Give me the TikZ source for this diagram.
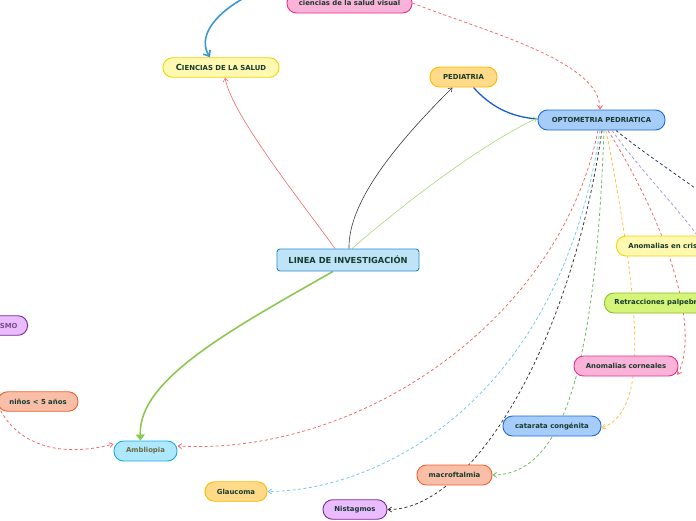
\documentclass[tikz,border=0pt]{standalone}
\usepackage{fontspec}
\setmainfont{DejaVu Sans}
\usetikzlibrary{arrows.meta,backgrounds}
\definecolor{txt}{HTML}{173A2C}
\definecolor{pinkF}{HTML}{FBB2D8}\definecolor{pinkD}{HTML}{E8308A}
\definecolor{yelF}{HTML}{FFF8B0}\definecolor{yelD}{HTML}{F2D400}
\definecolor{orF}{HTML}{FFDA88}\definecolor{orD}{HTML}{FFB700}
\definecolor{bluF}{HTML}{A6CCFA}\definecolor{bluD}{HTML}{1E6AD8}
\definecolor{cyF}{HTML}{BFE4F8}\definecolor{cyD}{HTML}{2A8AC8}
\definecolor{purF}{HTML}{EABCFF}\definecolor{purD}{HTML}{7A2A90}
\definecolor{salF}{HTML}{F9BEA8}\definecolor{salD}{HTML}{F0602A}
\definecolor{skyF}{HTML}{AEE8FC}\definecolor{skyD}{HTML}{1AA8E8}
\definecolor{grnF}{HTML}{D4F57A}\definecolor{grnD}{HTML}{8AC020}
\definecolor{cRed}{HTML}{F26B6B}
\definecolor{cBlk}{HTML}{3A3A3A}
\definecolor{cGrnT}{HTML}{A8D878}
\definecolor{cGrnK}{HTML}{8CC850}
\definecolor{cBluTop}{HTML}{3A98D0}
\definecolor{cBluPed}{HTML}{1A5FD0}
\definecolor{cSky}{HTML}{70C8F0}
\definecolor{cGrnD}{HTML}{70B860}
\definecolor{cYel}{HTML}{FFC040}
\definecolor{cPur}{HTML}{A898E0}
\definecolor{cNav}{HTML}{2A3A5A}
\tikzset{
  box/.style={draw, line width=0.9pt, rounded corners=9.5pt, minimum height=19.5pt,
    inner xsep=10pt, inner ysep=0pt, text=txt,
    font=\bfseries\fontsize{6.9}{8}\selectfont},
  lnk/.style={line width=0.8pt},
  dsh/.style={line width=0.8pt, dash pattern=on 3pt off 2.5pt},
  tip/.style={-{Straight Barb[length=3.5pt,width=5pt]}}
}
\begin{document}
\begin{tikzpicture}[x=1pt,y=-1pt]
\useasboundingbox (0,0) rectangle (696,520);
\clip (0,0) rectangle (696,520);
% nodes
\node[box, fill=pinkF, draw=pinkD, minimum width=125pt, minimum height=20pt] (vis) at (349.5,3) {ciencias de la salud visual};
\node[box, fill=yelF, draw=yelD, minimum width=116pt] (cs) at (221,67.5) {{\fontsize{8.4}{9}\selectfont C}{\fontsize{6.9}{8}\selectfont IENCIAS DE LA SALUD}};
\node[box, fill=orF, draw=orD, minimum width=67pt, minimum height=20pt] (ped) at (463.5,77) {PEDIATRIA};
\node[box, fill=bluF, draw=bluD, minimum width=127pt, minimum height=20pt] (opt) at (601.5,120) {OPTOMETRIA PEDRIATICA};
\node[box, fill=cyF, draw=cyD, rounded corners=3pt, minimum width=142pt, minimum height=22pt, font=\bfseries\fontsize{8.3}{9}\selectfont] (lin) at (348,260) {LINEA DE INVESTIGACIÓN};
\node[box, fill=purF, draw=purD, anchor=east, text=purD!60!gray] (est) at (28,325.5) {ESTRABISMO};
\node[box, fill=salF, draw=salD, minimum width=80pt] (nin) at (38,401.5) {niños < 5 años};
\node[box, fill=skyF, draw=skyD, minimum width=63pt, minimum height=20pt, text=black!45!olive!70!gray] (amb) at (145.5,451) {Ambliopia};
\node[box, fill=orF, draw=orD, minimum width=62pt] (gla) at (236,491.5) {Glaucoma};
\node[box, fill=purF, draw=purD, minimum width=64pt] (nis) at (355,509.5) {Nistagmos};
\node[box, fill=salF, draw=salD, minimum width=75pt, minimum height=20pt] (mac) at (454.5,475) {macroftalmia};
\node[box, fill=bluF, draw=bluD, minimum width=98pt, minimum height=20pt] (cat) at (552,426) {catarata congénita};
\node[box, fill=pinkF, draw=pinkD, minimum width=104pt, minimum height=20pt] (cor) at (626,366) {Anomalias corneales};
\node[box, fill=grnF, draw=grnD, anchor=west, minimum height=20pt] (ret) at (604,303) {Retracciones palpebrales};
\node[box, fill=yelF, draw=yelD, anchor=west, minimum height=20pt, inner xsep=12pt] (cri) at (616,246) {Anomalias en cristalino};
\coordinate (topfree) at (244,-2);
\coordinate (purfree) at (702,242);
\coordinate (navfree) at (702,193);
% connectors
\begin{pgfonlayer}{background}
\draw[line width=1.6pt, cBluTop, -{Straight Barb[length=5pt,width=8pt]}] (topfree) .. controls (212,16) and (198,38) .. ([xshift=-11pt]cs.north);
\draw[dsh, cRed, tip] (vis.east) .. controls (480,30) and (600,60) .. ([xshift=-1.5pt]opt.north);
\draw[line width=1.3pt, cBluPed] ([xshift=10pt]ped.south) .. controls (490,106) and (510,117) .. ([yshift=1pt]opt.west);
\draw[lnk, cBlk, line width=0.6pt, tip] ([xshift=1pt]lin.north) .. controls (348,200) and (400,140) .. ([xshift=-11pt]ped.south);
\draw[lnk, cRed, line width=0.6pt, tip] ([xshift=-13pt]lin.north) .. controls (300,200) and (232,115) .. ([xshift=4pt]cs.south);
\draw[lnk, cGrnT, line width=0.6pt, tip] ([xshift=4pt]lin.north) .. controls (420,190) and (490,140) .. ([yshift=2pt]opt.west);
\draw[line width=1.6pt, cGrnK, -{Triangle[length=6pt,width=9pt]}] ([xshift=-15pt]lin.south) .. controls (230,330) and (138,380) .. ([xshift=-5pt]amb.north);
\draw[dsh, cRed, tip] ([xshift=-3.5pt]opt.south) .. controls (560,320) and (360,456) .. ([yshift=5pt]amb.east);
\draw[dsh, cRed, tip] ([xshift=3pt,yshift=1pt]nin.south west) .. controls (20,445) and (60,458) .. ([yshift=7pt]amb.west);
\draw[dsh, cSky, tip] ([xshift=-1.5pt]opt.south) .. controls (560,400) and (380,491) .. (gla.east);
\draw[dsh, cBlk, tip] ([xshift=0.5pt]opt.south) .. controls (570,350) and (470,510) .. (nis.east);
\draw[dsh, cGrnD, tip] ([xshift=2.5pt]opt.south) .. controls (595,380) and (560,474) .. (mac.east);
\draw[dsh, cYel, tip] ([xshift=4.5pt]opt.south) .. controls (645,330) and (645,412) .. ([yshift=-2pt]cat.east);
\draw[dsh, cRed, tip] ([xshift=6.5pt]opt.south) .. controls (670,230) and (700,330) .. ([xshift=-1pt,yshift=-9pt]cor.east);
\draw[dsh, cPur] ([xshift=10.5pt]opt.south) .. controls (640,170) and (680,210) .. (purfree);
\draw[dsh, cNav] ([xshift=14.5pt]opt.south) .. controls (640,150) and (670,170) .. (navfree);
\end{pgfonlayer}
\end{tikzpicture}
\end{document}
